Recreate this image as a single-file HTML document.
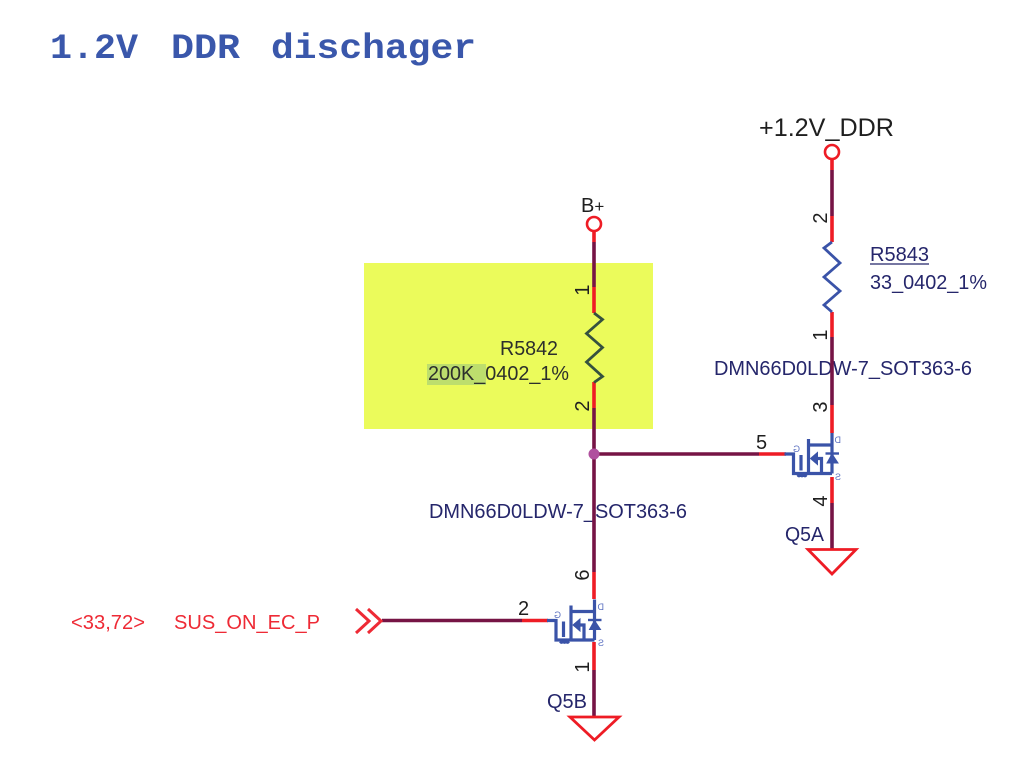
<!DOCTYPE html>
<html>
<head>
<meta charset="utf-8">
<style>
html,body{margin:0;padding:0;background:#fff;width:1024px;height:774px;overflow:hidden}
svg{display:block}
text{font-family:"Liberation Sans",sans-serif}
</style>
</head>
<body>
<svg width="1024" height="774" viewBox="0 0 1024 774" xmlns="http://www.w3.org/2000/svg">
<defs>
<g id="q" fill="none" stroke="#3a53a8" stroke-width="3.200">
  <path d="M-24 0H-15V19.500H23.500"/>
  <path d="M-7.500 1V16.500"/>
  <path d="M0 -15V21"/>
  <path d="M0 -9H23.500M23.500 -21V19.500"/>
  <path d="M3 4.500H13V19.500"/>
  <path d="M-11 21q1.500 2.500 3 0q1.500 2.500 3 0q1.500 2.500 3 0" stroke-width="2.200"/>
  <path d="M17 -0.500H30.500" stroke-width="2.400"/>
  <path d="M2 4.500L9 -1.500V10.500Z" fill="#3a53a8" stroke-width="1"/>
  <path d="M23.500 0L18.500 9H29.500Z" fill="#3a53a8" stroke-width="1"/>
</g>
</defs>

<rect x="364" y="263" width="289" height="166" fill="#ebfb5b"/>
<rect x="427" y="364" width="59" height="21" fill="#bdde6d"/>

<text x="50" y="58" font-size="35" font-weight="bold" fill="#3a57ab" textLength="88" lengthAdjust="spacingAndGlyphs" style="font-family:'Liberation Mono',monospace">1.2V</text>
<text x="171" y="58" font-size="35" font-weight="bold" fill="#3a57ab" textLength="69" lengthAdjust="spacingAndGlyphs" style="font-family:'Liberation Mono',monospace">DDR</text>
<text x="271" y="58" font-size="35" font-weight="bold" fill="#3a57ab" textLength="205" lengthAdjust="spacingAndGlyphs" style="font-family:'Liberation Mono',monospace">dischager</text>

<!-- part-number labels sit under the wires -->
<g font-size="20" fill="#25266b">
  <text x="714" y="375" textLength="258" lengthAdjust="spacingAndGlyphs">DMN66D0LDW-7_SOT363-6</text>
  <text x="429" y="518" textLength="258" lengthAdjust="spacingAndGlyphs">DMN66D0LDW-7_SOT363-6</text>
</g>

<!-- dark wires -->
<g stroke="#761445" stroke-width="3.600" fill="none">
  <path d="M594 242V287M594 408V572M594 670V716"/>
  <path d="M594 454H759"/>
  <path d="M832 170V216M832 337V405M832 503V549"/>
  <path d="M382 620.500H522"/>
</g>
<!-- red pin stubs -->
<g stroke="#ee1c25" stroke-width="3.600" fill="none">
  <path d="M594 231V242M594 287V313M594 382V408M594 572V599M594 642V670"/>
  <path d="M832 159V170M832 216V242M832 312V337M832 405V433M832 477V503"/>
  <path d="M522 620.500H548M759 454H786"/>
</g>

<!-- power pins -->
<circle cx="594" cy="224" r="7" fill="#fff" stroke="#ee1c25" stroke-width="2.600"/>
<circle cx="832" cy="152" r="7" fill="#fff" stroke="#ee1c25" stroke-width="2.600"/>

<!-- resistors -->
<path d="M594 313L602.500 319.500L586.500 333.500L602.500 347.500L586.500 362L602.500 376.500L594 382.500" fill="none" stroke="#35513f" stroke-width="2.800"/>
<path d="M832 242L824 248L840 263L824 277L840 291L824 305L832 312" fill="none" stroke="#3a53a8" stroke-width="2.800"/>

<!-- junction -->
<circle cx="594" cy="454" r="5.500" fill="#b0509e"/>

<!-- grounds -->
<path d="M570 717H619L594.500 740Z" fill="#fff" stroke="#ee1c25" stroke-width="2.800"/>
<path d="M808 549.500H856L832 574Z" fill="#fff" stroke="#ee1c25" stroke-width="2.800"/>

<!-- input chevrons -->
<path d="M356 609L369 621L356 633M368 609L381 621L368 633" fill="none" stroke="#ee2a35" stroke-width="3"/>

<!-- MOSFETs -->
<use href="#q" x="571" y="620.500"/>
<use href="#q" x="808.500" y="454"/>
<g font-size="9" fill="#5a6fc0">
  <text transform="translate(604,610) scale(-1,1)">D</text>
  <text transform="translate(604,646) scale(-1,1)">S</text>
  <text transform="translate(561,618) scale(-1,1)">G</text>
  <text transform="translate(841,443) scale(-1,1)">D</text>
  <text transform="translate(841,480) scale(-1,1)">S</text>
  <text transform="translate(800,452) scale(-1,1)">G</text>
</g>

<!-- text -->
<text x="759" y="136" font-size="25" fill="#1f1f1f" textLength="135" lengthAdjust="spacingAndGlyphs">+1.2V_DDR</text>
<text x="581" y="212" font-size="20" fill="#1f1f1f">B<tspan font-size="17">+</tspan></text>

<g font-size="20" fill="#25266b">
  <text x="870" y="261" textLength="59" lengthAdjust="spacingAndGlyphs">R5843</text>
  <path d="M870 264H929" stroke="#25266b" stroke-width="1.200"/>
  <text x="870" y="289" textLength="117" lengthAdjust="spacingAndGlyphs">33_0402_1%</text>
  <text x="785" y="541" textLength="39" lengthAdjust="spacingAndGlyphs">Q5A</text>
  <text x="547" y="708" textLength="40" lengthAdjust="spacingAndGlyphs">Q5B</text>
</g>
<g font-size="20" fill="#2c2f2c">
  <text x="500" y="355" textLength="58" lengthAdjust="spacingAndGlyphs">R5842</text>
  <text x="428" y="380" textLength="141" lengthAdjust="spacingAndGlyphs">200K_0402_1%</text>
</g>
<g font-size="20" fill="#ee2a35">
  <text x="71" y="629" textLength="74" lengthAdjust="spacingAndGlyphs">&lt;33,72&gt;</text>
  <text x="174" y="629" textLength="146" lengthAdjust="spacingAndGlyphs">SUS_ON_EC_P</text>
</g>

<!-- pin numbers -->
<g font-size="20" fill="#1f1f1f">
  <text x="518" y="615">2</text>
  <text x="756" y="449">5</text>
  <text transform="translate(589,290) rotate(-90)" text-anchor="middle">1</text>
  <text transform="translate(589,406) rotate(-90)" text-anchor="middle">2</text>
  <text transform="translate(589,575) rotate(-90)" text-anchor="middle">6</text>
  <text transform="translate(589,667) rotate(-90)" text-anchor="middle">1</text>
  <text transform="translate(827,218) rotate(-90)" text-anchor="middle">2</text>
  <text transform="translate(827,335) rotate(-90)" text-anchor="middle">1</text>
  <text transform="translate(827,407) rotate(-90)" text-anchor="middle">3</text>
  <text transform="translate(827,501) rotate(-90)" text-anchor="middle">4</text>
</g>
</svg>
</body>
</html>
